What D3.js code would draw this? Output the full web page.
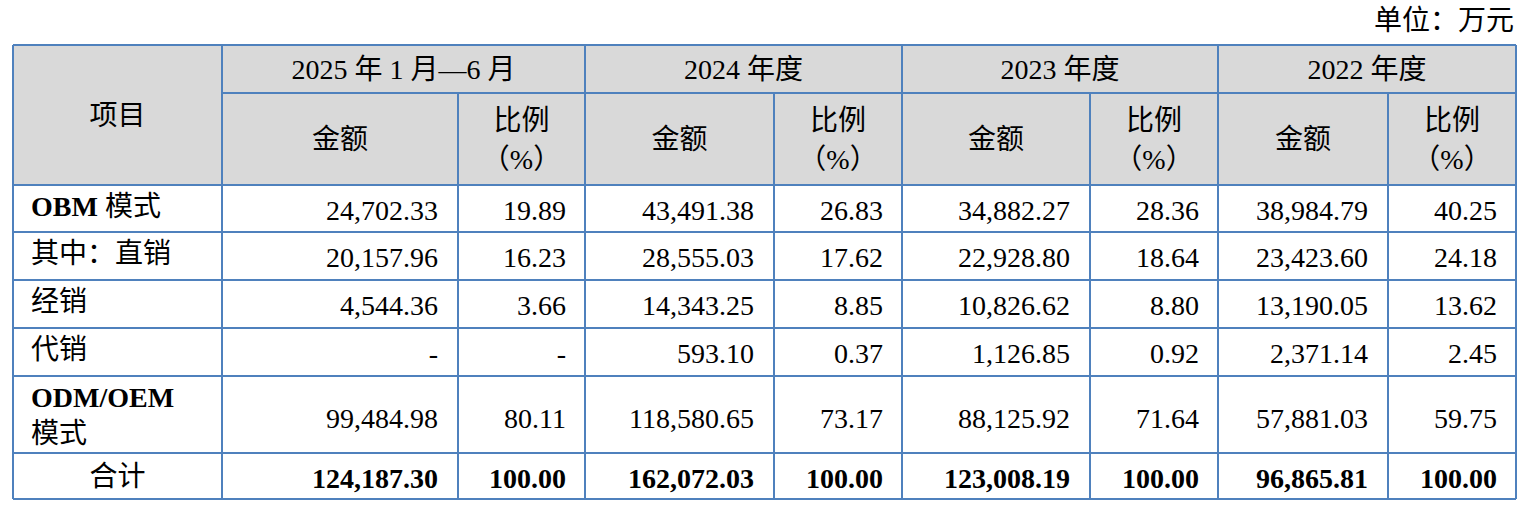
<!DOCTYPE html><html><head><meta charset="utf-8"><script src="https://cdn.jsdelivr.net/npm/d3@7"></script>
<style>body{margin:0;background:#fff}</style></head><body><svg id="c" width="1523" height="509"></svg>
<script>
const periods=["2025 年 1 月—6 月","2024 年度","2023 年度","2022 年度"];
const rowLabels=[["OBM 模式"],["其中：直销"],["经销"],["代销"],["ODM/OEM","模式"],["合计"]];
const amounts=[
 ["24,702.33","43,491.38","34,882.27","38,984.79"],
 ["20,157.96","28,555.03","22,928.80","23,423.60"],
 ["4,544.36","14,343.25","10,826.62","13,190.05"],
 ["-","593.10","1,126.85","2,371.14"],
 ["99,484.98","118,580.65","88,125.92","57,881.03"],
 ["124,187.30","162,072.03","123,008.19","96,865.81"]];
const ratios=[
 ["19.89","26.83","28.36","40.25"],
 ["16.23","17.62","18.64","24.18"],
 ["3.66","8.85","8.80","13.62"],
 ["-","0.37","0.92","2.45"],
 ["80.11","73.17","71.64","59.75"],
 ["100.00","100.00","100.00","100.00"]];
const colX=[13,222,458,585,774,902,1090,1218,1388,1516];
const rowY=[45,93,185,232,280,328,376,453,499];
const svg=d3.select("#c");
const F='"Liberation Serif","Noto Sans CJK SC",serif';
const fs=28, line="#4f81bd";
svg.append("rect").attr("x",colX[0]).attr("y",rowY[0]).attr("width",colX[9]-colX[0]).attr("height",rowY[2]-rowY[0]).attr("fill","#d9d9d9");
const t=(x,y,s,anchor,bold)=>svg.append("text").attr("x",x).attr("y",y).attr("text-anchor",anchor).attr("font-family",F).attr("font-size",fs).attr("font-weight",bold?"bold":"normal").attr("fill","#000").text(s);
t(1514,30,"单位：万元","end");
t((colX[0]+colX[1])/2,(rowY[0]+rowY[2])/2+10,"项目","middle");
periods.forEach((p,i)=>{
 const a=colX[1+2*i],m=colX[2+2*i],b=colX[3+2*i];
 t((a+b)/2,rowY[0]+34,p,"middle");
 t((a+m)/2,(rowY[1]+rowY[2])/2+10,"金额","middle");
 t((m+b)/2,rowY[1]+37,"比例","middle");
 t((m+b)/2,rowY[1]+76,"（%）","middle");
});
rowLabels.forEach((lab,r)=>{
 const y0=rowY[2+r],y1=rowY[3+r],bold=r===0||r===4;
 if(r===5) t((colX[0]+colX[1])/2,(y0+y1)/2+10,lab[0],"middle");
 else if(lab.length===1) t(colX[0]+18,y0+31,lab[0],"start",bold&&false).attr("font-weight",null).call(s=>{ if(bold){s.text(null);s.append("tspan").attr("font-weight","bold").text("OBM");s.append("tspan").text(" 模式");}});
 else {const s=t(colX[0]+18,y0+31,"","start");s.append("tspan").attr("font-weight","bold").text("ODM/OEM");t(colX[0]+18,y0+67,"模式","start");}
 const ty=lab.length===2?(y0+y1)/2+13:y0+35;
 for(let i=0;i<4;i++){
  t(colX[2+2*i]-20,r===5?(y0+y1)/2+12:ty,amounts[r][i],"end",r===5);
  t(colX[3+2*i]-19,r===5?(y0+y1)/2+12:ty,ratios[r][i],"end",r===5);
 }
});
const L=(x1,y1,x2,y2)=>svg.append("line").attr("x1",x1).attr("y1",y1).attr("x2",x2).attr("y2",y2).attr("stroke",line).attr("stroke-width",2);
rowY.forEach((y,i)=>L(i===1?colX[1]:colX[0],y,colX[9],y));
colX.forEach((x,i)=>{const top=(i%2===0&&i>1&&i<9)?rowY[1]:rowY[0];L(x,top,x,rowY[8]);});
</script></body></html>
